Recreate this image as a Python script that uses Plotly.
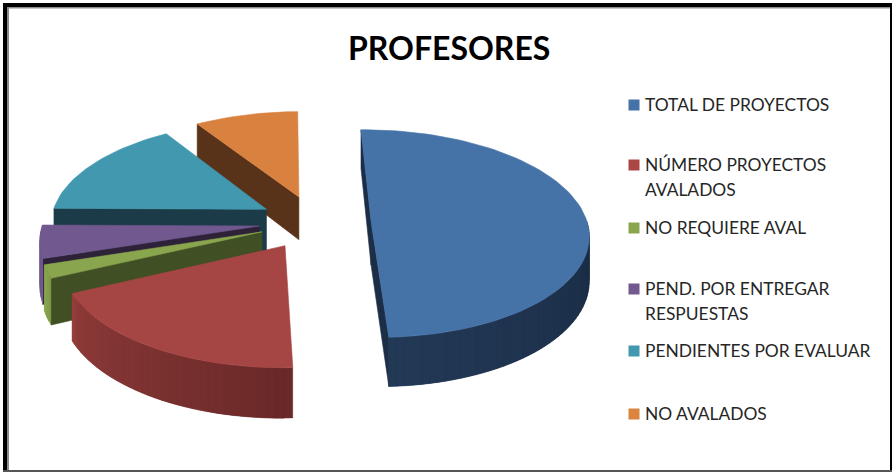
import numpy as np
import plotly.graph_objects as go

# data (percent of the pie)
categories = ["TOTAL DE PROYECTOS", "NÚMERO PROYECTOS<br>AVALADOS", "NO REQUIERE AVAL",
              "PEND. POR ENTREGAR<br>RESPUESTAS", "PENDIENTES POR EVALUAR", "NO AVALADOS"]
values = [49.6, 18.9, 2, 5, 15.6, 9]

# colours
TOP = ["#4572A7", "#A64644", "#89A54E", "#71588F", "#4198AF", "#D98240"]
WALL = ["#1C2E47", "#5C2322", "#404F24", "#2E2239", "#1A3B47", "#58331A"]
LEGEND_COL = ["#4572A7", "#AA4643", "#89A54E", "#71588F", "#4198AF", "#DB843D"]
TEXT = "#262626"

# pie geometry (pixels)
CX, CY = 315, 222
RX, RY = 216, 104
DEPTH = 44
PERSP = 0.12
EXPLODE = 0.26
START = -1
DRAW_ORDER = [5, 4, 3, 2, 1, 0]
LEGEND_X = 634
LEGEND_Y = [105, 165, 228, 289, 351, 414]
LINE_GAP = 25


def hex2rgb(h):
    h = h.lstrip("#")
    return np.array([int(h[i:i + 2], 16) for i in (0, 2, 4)], dtype=float)


def project(u, v, z=0.0):
    f = 1 + PERSP * v
    return CX + RX * u * f, CY + RY * v * f + DEPTH * z * f


def rim_shade(i, theta):
    # how far the rim colour goes from wall to top, by angle
    t = np.interp(theta, [100, 176, 241, 250], [0.0, 0.16, 0.65, 1.0])
    c = hex2rgb(WALL[i]) + (hex2rgb(TOP[i]) - hex2rgb(WALL[i])) * t
    return "rgb(%d,%d,%d)" % tuple(np.clip(c, 0, 255))


def poly(fig, pts, col, width=0.6):
    xs = [p[0] for p in pts] + [pts[0][0]]
    ys = [p[1] for p in pts] + [pts[0][1]]
    fig.add_trace(go.Scatter(x=xs, y=ys, mode="lines", fill="toself", fillcolor=col,
                             line=dict(color=col, width=width), showlegend=False, hoverinfo="skip"))


fig = go.Figure()

total = sum(values)
edges = [START]
for val in values:
    edges.append(edges[-1] + val / total * 360)

for i in DRAW_ORDER:
    a0, a1 = edges[i], edges[i + 1]
    mid = np.radians((a0 + a1) / 2)
    ax, ay = EXPLODE * np.sin(mid), -EXPLODE * np.cos(mid)
    ths = np.linspace(a0, a1, max(4, int(a1 - a0) // 2 + 2))
    us = ax + np.sin(np.radians(ths))
    vs = ay - np.cos(np.radians(ths))

    # cut faces
    if np.sin(np.radians(a0)) < 0:
        poly(fig, [project(ax, ay), project(us[0], vs[0]), project(us[0], vs[0], 1), project(ax, ay, 1)], WALL[i])
    if np.sin(np.radians(a1)) > 0:
        poly(fig, [project(ax, ay), project(us[-1], vs[-1]), project(us[-1], vs[-1], 1), project(ax, ay, 1)], WALL[i])

    # outer wall, split up for the shading; each piece overlaps the next so no seams show
    for k in range(len(ths) - 1):
        if np.cos(np.radians((ths[k] + ths[k + 1]) / 2)) < 0:
            e = min(k + 2, len(ths) - 1)
            poly(fig, [project(us[k], vs[k]), project(us[e], vs[e]),
                       project(us[e], vs[e], 1), project(us[k], vs[k], 1)],
                 rim_shade(i, (ths[k] + ths[k + 1]) / 2), 0.3)

    # top face
    poly(fig, [project(ax, ay)] + [project(u, v) for u, v in zip(us, vs)], TOP[i])

# legend
for name, col, y in zip(categories, LEGEND_COL, LEGEND_Y):
    fig.add_trace(go.Scatter(x=[LEGEND_X], y=[y], mode="markers", showlegend=False, hoverinfo="skip",
                             marker=dict(symbol="square", size=11, color=col)))
    for n, line in enumerate(name.split("<br>")):
        fig.add_annotation(x=LEGEND_X + 9, y=y + n * LINE_GAP - 1, text=line, showarrow=False, xanchor="left",
                           yanchor="middle", font=dict(family="Lato", size=17.4, color=TEXT))

fig.add_annotation(x=449, y=47, text="<b>PROFESORES</b>", showarrow=False, xanchor="center", yanchor="middle",
                   font=dict(family="Lato", size=32, color="#000000"))

# frame around the picture
frame = [(3, 3, 892, 7, "#000000"), (3, 3, 7, 472, "#000000"), (7, 7, 892, 8.5, "#8C8C8C"),
         (7, 7, 9, 472, "#8C8C8C"), (890, 3, 892, 472, "#000000"), (3, 470, 892, 472, "#555555")]
for x0, y0, x1, y1, col in frame:
    fig.add_shape(type="rect", x0=x0, y0=y0, x1=x1, y1=y1, fillcolor=col, line=dict(width=0), layer="above")

fig.update_layout(
    width=894, height=472, margin=dict(l=0, r=0, t=0, b=0),
    paper_bgcolor="white", plot_bgcolor="white", showlegend=False,
    xaxis=dict(visible=False, range=[0, 894], fixedrange=True),
    yaxis=dict(visible=False, range=[472, 0], fixedrange=True),
)

# the page's default body margin would push the chart 8px off
fig.write_html("out.html", config=dict(displayModeBar=False),
               post_script="document.body.style.margin='0';document.body.style.overflow='hidden';")
